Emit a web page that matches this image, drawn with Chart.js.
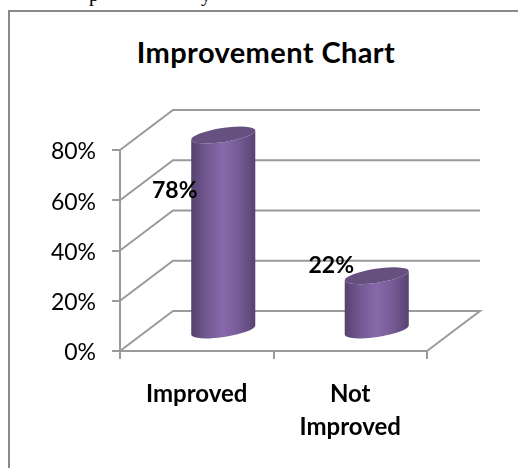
<!DOCTYPE html>
<html lang="en">
<head>
    <meta charset="UTF-8">
    <title>Improvement Chart</title>
    <script src="https://cdnjs.cloudflare.com/ajax/libs/Chart.js/4.4.1/chart.umd.min.js"></script>
    <style>
        html, body { margin: 0; padding: 0; background: #fff; overflow: hidden; }
        #wrap { position: relative; width: 518px; height: 468px; overflow: hidden; }
        #frame {
            position: absolute; left: 8px; top: 10px; right: 0; bottom: 0;
            border-left: 2px solid #8a8a8a; border-top: 2px solid #8a8a8a;
        }
        #title {
            position: absolute; left: 0; width: 532px; top: 34px; text-align: center;
            font: bold 29px Lato, sans-serif; letter-spacing: 0.4px; color: #000;
        }
        .cut { position: absolute; top: -17px; font: 20px "Liberation Serif", serif; color: #000; }
        canvas { position: absolute; left: 0; top: 0; }
    </style>
</head>
<body>
    <div id="wrap">
        <span class="cut" style="left:89px">p</span>
        <span class="cut" style="left:201px">y</span>
        <div id="frame"></div>
        <div id="title">Improvement Chart</div>
        <canvas id="improvementChart" width="518" height="468"></canvas>
    </div>
    <script>
        var categories = ['Improved', ['Not', 'Improved']];
        var improvementValues = [78, 22];
        var yTicks = [0, 20, 40, 60, 80];

        // how far the back wall sits behind the axes
        var depthX = 53, depthY = 40;
        var valueLabelOffsets = [[-22, 36], [-19, -30]];
        var gridColor = '#9a9a9a';

        var depthPlugin = {
            id: 'depth',
            beforeDatasetsDraw: function(chart) {
                var c = chart.ctx, x = chart.scales.x, y = chart.scales.y;
                c.save();
                c.strokeStyle = gridColor;
                c.lineWidth = 2;
                yTicks.forEach(function(t) {
                    var py = y.getPixelForValue(t);
                    c.beginPath();
                    c.moveTo(x.left, py);
                    c.lineTo(x.left + depthX, py - depthY);
                    c.lineTo(x.right + depthX, py - depthY);
                    if (t === 0) c.lineTo(x.right, py);
                    c.stroke();
                });
                c.restore();
            }
        };

        // cylinders are drawn from the bar elements, pushed to the middle of the depth
        function drawCylinder(c, bar) {
            var w = bar.width, rx = w / 2, ry = 7, tilt = -0.15;
            var cx = bar.x + depthX / 2, top = bar.y - depthY / 2, bottom = bar.base - depthY / 2;
            var grad = c.createLinearGradient(cx - rx, 0, cx + rx, 0);
            grad.addColorStop(0, '#55416d');
            grad.addColorStop(0.25, '#735a93');
            grad.addColorStop(0.5, '#8869ab');
            grad.addColorStop(0.75, '#755b95');
            grad.addColorStop(1, '#574270');
            c.fillStyle = grad;
            c.beginPath();
            c.ellipse(cx, bottom, rx, ry, tilt, 0, Math.PI);
            c.ellipse(cx, top, rx, ry, tilt, Math.PI, 0, true);
            c.closePath();
            c.fill();
            c.fillStyle = '#65507f';
            c.beginPath();
            c.ellipse(cx, top, rx, ry, tilt, 0, Math.PI * 2);
            c.fill();
        }

        var cylinderPlugin = {
            id: 'cylinder',
            afterDatasetsDraw: function(chart) {
                var c = chart.ctx;
                var bars = chart.getDatasetMeta(0).data;
                bars.forEach(function(bar) { drawCylinder(c, bar); });
                c.save();
                c.fillStyle = '#000';
                c.font = 'bold 23px Lato, sans-serif';
                c.textAlign = 'center';
                c.textBaseline = 'middle';
                bars.forEach(function(bar, i) {
                    c.fillText(improvementValues[i] + '%', bar.x + valueLabelOffsets[i][0], bar.y + valueLabelOffsets[i][1]);
                });
                c.restore();
            }
        };

        new Chart(document.getElementById('improvementChart').getContext('2d'), {
            type: 'bar',
            data: {
                labels: categories,
                datasets: [{
                    data: improvementValues,
                    backgroundColor: 'transparent',
                    barPercentage: 0.422,
                    categoryPercentage: 1
                }]
            },
            options: {
                responsive: false,
                animation: false,
                layout: { padding: { top: 150, right: 91, left: 0, bottom: 0 } },
                plugins: { legend: { display: false }, title: { display: false }, tooltip: { enabled: false } },
                scales: {
                    y: {
                        min: 0,
                        max: 80,
                        afterFit: function(scale) { scale.width = 120; },
                        afterBuildTicks: function(scale) {
                            scale.ticks = yTicks.map(function(v) { return { value: v }; });
                        },
                        border: { color: gridColor, width: 2 },
                        grid: { drawOnChartArea: false, color: gridColor, lineWidth: 2, tickLength: 8 },
                        ticks: {
                            color: '#000',
                            padding: 16,
                            labelOffset: 2,
                            font: { family: 'Lato, sans-serif', size: 23 },
                            callback: function(v) { return v + '%'; }
                        }
                    },
                    x: {
                        afterFit: function(scale) { scale.height = 117; },
                        border: { color: gridColor, width: 2 },
                        grid: { drawOnChartArea: false, color: gridColor, lineWidth: 2, tickLength: 8, offset: true },
                        ticks: {
                            color: '#000',
                            padding: 18,
                            maxRotation: 0,
                            autoSkip: false,
                            font: { family: 'Lato, sans-serif', size: 24, weight: 'bold', lineHeight: 1.4 }
                        }
                    }
                }
            },
            plugins: [depthPlugin, cylinderPlugin]
        });
    </script>
</body>
</html>
